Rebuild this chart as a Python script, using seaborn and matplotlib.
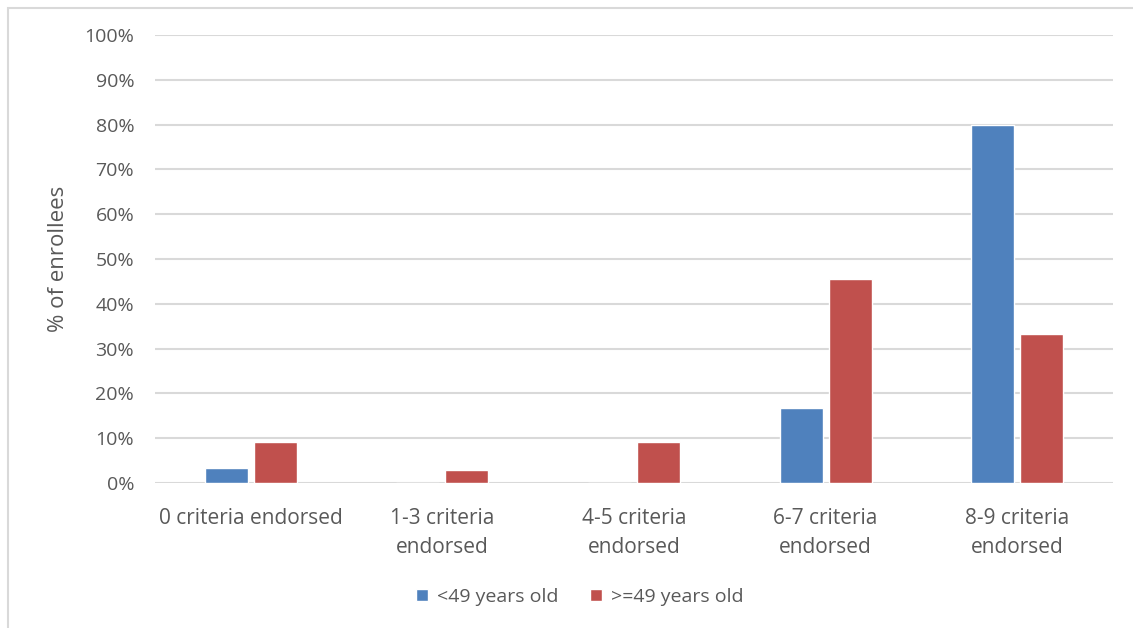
import pandas as pd
import seaborn as sns
import matplotlib.pyplot as plt
from matplotlib.patches import Rectangle
from matplotlib.ticker import PercentFormatter

# data
categories = ["0 criteria endorsed", "1-3 criteria\nendorsed", "4-5 criteria\nendorsed",
              "6-7 criteria\nendorsed", "8-9 criteria\nendorsed"]
under_49 = [3.3, 0.0, 0.0, 16.7, 80.0]
over_49 = [9.1, 3.0, 9.1, 45.5, 33.3]
groups = ["<49 years old", ">=49 years old"]
colors = ["#4f81bd", "#c0504d"]

df = pd.DataFrame({
    "category": categories * 2,
    "pct": under_49 + over_49,
    "group": [groups[0]] * 5 + [groups[1]] * 5,
})

sns.set_style("white")
plt.rcParams["font.family"] = ["Open Sans", "DejaVu Sans"]
grey = "#595959"

fig = plt.figure(figsize=(11.33, 6.28), dpi=100)
ax = fig.add_axes([155 / 1133, 1 - 483 / 628, 958 / 1133, 448 / 628])

sns.barplot(data=df, x="category", y="pct", hue="group", palette=colors,
            saturation=1, width=0.51, gap=0.12, ax=ax, legend=True, zorder=3)

ax.set_ylim(0, 100)
ax.set_xlim(-0.5, 4.5)
ax.set_yticks(range(0, 101, 10))
ax.yaxis.set_major_formatter(PercentFormatter(decimals=0))
ax.grid(axis="y", color="#d9d9d9", linewidth=1.5, zorder=0)
for s in ax.spines.values():
    s.set_visible(False)
ax.tick_params(axis="both", length=0, colors=grey)
ax.tick_params(axis="y", pad=15, labelsize=14)
ax.tick_params(axis="x", pad=18, labelsize=15)
for t in ax.get_xticklabels():
    t.set_linespacing(1.5)
ax.set_xlabel("")
ax.set_ylabel("% of enrollees", fontsize=16, color=grey, labelpad=11)

ax.legend(loc="center", bbox_to_anchor=(580 / 1133, 1 - 597 / 628),
          bbox_transform=fig.transFigure, ncol=2, frameon=False,
          fontsize=14, labelcolor=grey, handlelength=0.6, handleheight=0.6,
          handletextpad=0.5, columnspacing=1.6)

# outer chart frame
fig.patches.append(Rectangle((8 / 1133, -0.2), 1.5, 1.2 - 8 / 628,
                             transform=fig.transFigure, fill=False,
                             edgecolor="#d9d9d9", linewidth=1.5))

plt.savefig("out.png", dpi=100)
plt.close()
